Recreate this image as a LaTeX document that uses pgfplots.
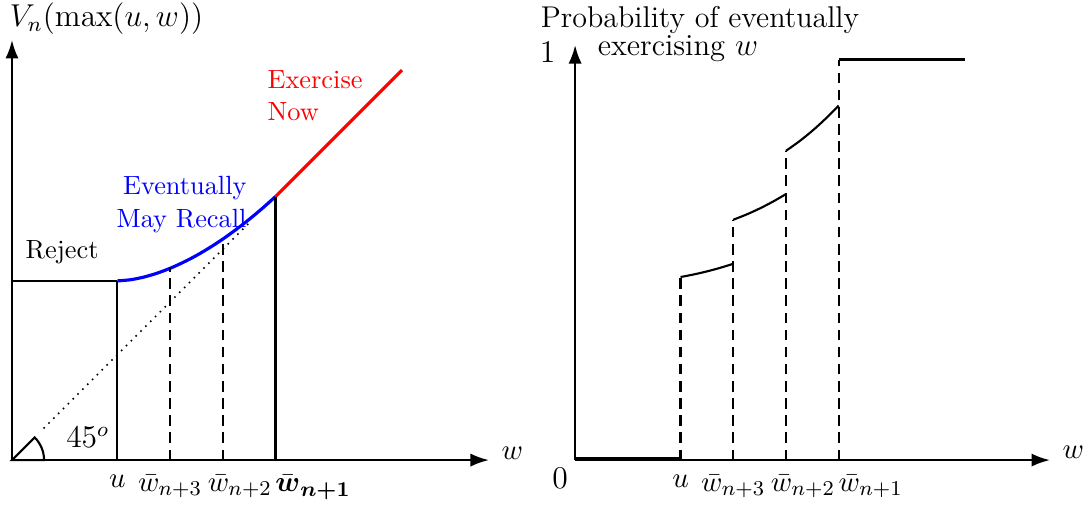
\documentclass[border=0pt]{standalone}
\usepackage{amsmath}
\usepackage{pgfplots}
\pgfplotsset{compat=1.18}
\usetikzlibrary{arrows.meta}
\begin{document}
\begin{tikzpicture}
\path (-4.55pt,-16.3pt) rectangle (407.2pt,174.6pt);
% ---------------- left panel ----------------
\begin{axis}[
  at={(0pt,0pt)}, anchor=south west,
  x=20pt, y=20pt,
  xmin=0, xmax=9.05, ymin=0, ymax=7.97,
  axis lines=left,
  axis line style={thick, -{Latex[length=7pt,width=5pt]}},
  xtick={2,3,4,5},
  xticklabels={$u$, $\bar w_{n+3}$, \hspace*{13pt}$\bar w_{n+2}$, \makebox[0pt][l]{$\bar{\boldsymbol w}_{\boldsymbol{n+1}}$}},
  ytick=\empty,
  major tick length=0pt,
  tick label style={font=\fontsize{10.95}{13}\selectfont},
  xticklabel style={yshift=-2.2pt},
  clip=false,
]
\addplot[thick, black] coordinates {(0,3.4) (2,3.4)};
\addplot[line width=1.2pt, blue, smooth] coordinates {
 (2,3.4) (2.25,3.422) (2.5,3.472) (2.75,3.545) (3,3.639) (3.25,3.752)
 (3.5,3.882) (3.75,4.030) (4,4.193) (4.25,4.373) (4.5,4.567) (4.75,4.776) (5,5)};
\addplot[line width=1.2pt, red] coordinates {(5,5) (7.4,7.4)};
\addplot[thick, black] coordinates {(2,0) (2,3.4)};
\addplot[thick, black, dash pattern=on 4pt off 2.5pt] coordinates {(3,0) (3,3.639)};
\addplot[thick, black, dash pattern=on 4pt off 2.5pt] coordinates {(4,0) (4,4.193)};
\addplot[thick, black] coordinates {(5,0) (5,5)};
\addplot[black, dotted, line width=0.6pt] coordinates {(0.6,0.6) (4.55,4.55)};
\draw[thick] (axis cs:0,0) -- (axis cs:0.43,0.43) arc[start angle=45, end angle=0, radius=12.2pt] -- cycle;
\node[anchor=base west, inner sep=0, font=\large] at (axis cs:1.02,0.23) {$45^o$};
\node[anchor=base west, inner sep=0] at (axis cs:0.25,3.83) {Reject};
\node[anchor=base east, inner sep=0, text=blue] at (axis cs:4.46,5.03) {Eventually};
\node[anchor=base east, inner sep=0, text=blue] at (axis cs:4.46,4.42) {May Recall};
\node[anchor=base west, inner sep=0, text=red] at (axis cs:4.84,7.06) {Exercise};
\node[anchor=base west, inner sep=0, text=red] at (axis cs:4.84,6.45) {Now};
\node[anchor=base west, inner sep=0, font=\fontsize{11}{13}\selectfont] at (axis cs:9.28,0.02) {$w$};
\node[anchor=base west, inner sep=0, font=\large] at (axis cs:-0.05,8.22) {$V_n(\max(u,w))$};
\end{axis}
% ---------------- right panel ----------------
\begin{axis}[
  at={(213.7pt,0pt)}, anchor=south west,
  x=20pt, y=152pt,
  xmin=0, xmax=9.01, ymin=0, ymax=1.036,
  axis lines=left,
  axis line style={thick, -{Latex[length=7pt,width=5pt]}},
  xtick={2,3,4,5},
  xticklabels={$u$, $\bar w_{n+3}$, \hspace*{13pt}$\bar w_{n+2}$, \makebox[0pt][l]{$\bar w_{n+1}$}},
  ytick={1}, yticklabels={$1$},
  major tick length=0pt,
  tick label style={font=\fontsize{10.95}{13}\selectfont},
  xticklabel style={yshift=-2.2pt},
  yticklabel style={font=\large, xshift=-4pt, yshift=2.7pt},
  clip=false,
]
\addplot[thick, black] coordinates {(0,0.004) (2,0.004)};
\addplot[thick, black, smooth] coordinates {(2,0.457) (2.25,0.4634) (2.5,0.471) (2.75,0.4799) (3,0.490)};
\addplot[thick, black, smooth] coordinates {(3,0.600) (3.25,0.613) (3.5,0.628) (3.75,0.645) (4,0.664)};
\addplot[thick, black, smooth] coordinates {(4,0.772) (4.25,0.7954) (4.5,0.822) (4.75,0.8519) (5,0.885)};
\addplot[thick, black] coordinates {(5,1) (7.4,1)};
\addplot[thick, black, dash pattern=on 4pt off 2.5pt] coordinates {(2,0) (2,0.457)};
\addplot[thick, black, dash pattern=on 4pt off 2.5pt] coordinates {(3,0) (3,0.600)};
\addplot[thick, black, dash pattern=on 4pt off 2.5pt] coordinates {(4,0) (4,0.772)};
\addplot[thick, black, dash pattern=on 4pt off 2.5pt] coordinates {(5,0) (5,1)};
\node[anchor=north east, inner sep=0, font=\large] at (axis cs:-0.13,-0.02) {$0$};
\node[anchor=base west, inner sep=0, font=\fontsize{11}{13}\selectfont] at (axis cs:9.24,0.003) {$w$};
\node[anchor=base west, inner sep=0, font=\fontsize{11.4}{13}\selectfont] at (axis cs:-0.66,1.081) {Probability of eventually};
\node[anchor=base west, inner sep=0, font=\fontsize{11.6}{13}\selectfont] at (axis cs:0.42,1.011) {exercising $w$};
\end{axis}
\end{tikzpicture}
\end{document}
